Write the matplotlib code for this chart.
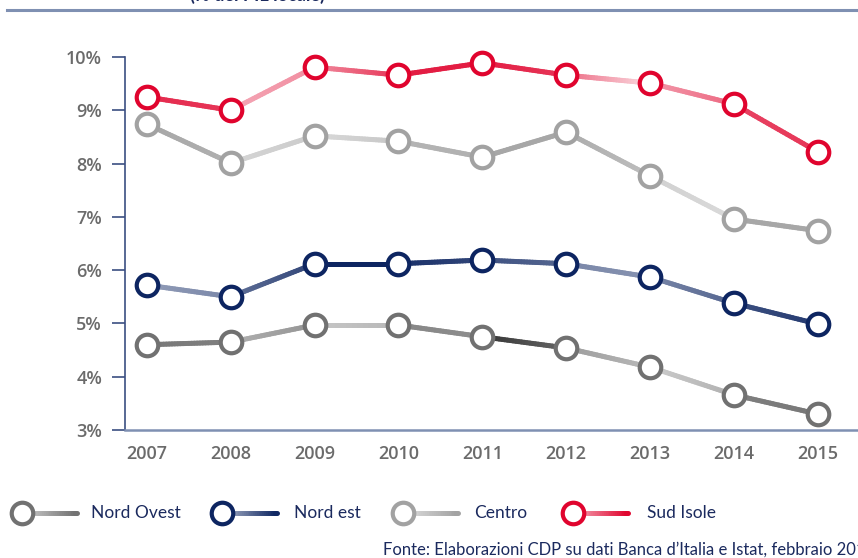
import numpy as np
import matplotlib
matplotlib.use("Agg")
import matplotlib.pyplot as plt
from matplotlib.collections import LineCollection
from matplotlib.lines import Line2D
from matplotlib.colors import to_rgb

plt.rcParams['font.family'] = ['Lato', 'DejaVu Sans']

# dati (% del PIL locale)
anni = [2007, 2008, 2009, 2010, 2011, 2012, 2013, 2014, 2015]
nord_ovest = [4.60, 4.65, 4.97, 4.97, 4.75, 4.54, 4.18, 3.66, 3.30]
nord_est = [5.72, 5.50, 6.12, 6.12, 6.19, 6.12, 5.87, 5.38, 4.99]
centro = [8.74, 8.01, 8.52, 8.42, 8.12, 8.59, 7.77, 6.96, 6.74]
sud_isole = [9.25, 9.00, 9.81, 9.66, 9.89, 9.66, 9.51, 9.12, 8.22]
nomi = ["Nord Ovest", "Nord est", "Centro", "Sud Isole"]
colori = ["#717171", "#0d2561", "#a2a2a2", "#e0042e"]

# sfumature dei segmenti (inizio, fine): >0 verso il bianco, <0 verso il nero
sfum = {
    "Nord Ovest": [(0.05, 0.1), (0.45, 0.25), (0.6, 0.5), (0.15, 0.2), (-0.55, -0.1), (0.3, 0.5), (0.65, 0.45), (0.1, 0.05)],
    "Nord est": [(0.55, 0.45), (0.35, 0.15), (0.0, 0.0), (0.05, 0.15), (0.2, 0.3), (0.45, 0.5), (0.45, 0.3), (0.2, 0.1)],
    "Centro": [(0.05, 0.15), (0.55, 0.45), (0.6, 0.4), (0.2, 0.15), (0.05, 0.05), (0.1, 0.3), (0.5, 0.6), (0.05, 0.05)],
    "Sud Isole": [(0.15, 0.2), (0.65, 0.55), (0.55, 0.2), (0.1, 0.1), (0.1, 0.2), (0.4, 0.85), (0.6, 0.4), (0.25, 0.2)],
}


def mescola(col, f):
    c = np.array(to_rgb(col))
    if f >= 0:
        return tuple(c + (1 - c) * f)
    return tuple(c * (1 + f))


def linea_sfumata(x, y, col, fades, lw, **kw):
    segs, cols = [], []
    for i in range(len(x) - 1):
        n = 30
        t = np.linspace(0, 1, n + 1)
        xs = x[i] + (x[i + 1] - x[i]) * t
        ys = y[i] + (y[i + 1] - y[i]) * t
        for k in range(n):
            segs.append([(xs[k], ys[k]), (xs[k + 1], ys[k + 1])])
            f = fades[i][0] + (fades[i][1] - fades[i][0]) * (k + 0.5) / n
            cols.append(mescola(col, f))
    return LineCollection(segs, colors=cols, linewidths=lw, capstyle='round', **kw)


fig = plt.figure(figsize=(8.58, 5.58), dpi=100)
ax = fig.add_axes([125 / 858, 1 - 430 / 558, 1 - 125 / 858, 373 / 558])

serie = [nord_ovest, nord_est, centro, sud_isole]
for nome, valori, col in zip(nomi, serie, colori):
    ax.add_collection(linea_sfumata(anni, valori, col, sfum[nome], 3.6, zorder=2))
    ax.plot(anni, valori, 'o', ms=15.5, mfc='white', mec=col, mew=3.0, zorder=4, clip_on=False)

ax.set_xlim(2006.74, 2015.48)
ax.set_ylim(3, 10)
ax.set_xticks(anni)
ax.set_xticklabels([str(a) for a in anni])
ax.set_yticks(range(3, 11))
ax.set_yticklabels([f"{v}%" for v in range(3, 11)])

for s in ['top', 'right']:
    ax.spines[s].set_visible(False)
ax.spines['left'].set_color('#3b4f82')
ax.spines['left'].set_linewidth(1.2)
ax.spines['bottom'].set_color('#7f90b2')
ax.spines['bottom'].set_linewidth(1.8)
ax.tick_params(axis='y', length=9.5, width=1.2, color='#3b4f82', pad=7,
               labelcolor='#6b6b6b')
ax.tick_params(axis='x', length=0, pad=11, labelcolor='#6b6b6b')
for lab in ax.get_xticklabels() + ax.get_yticklabels():
    lab.set_family(['Open Sans', 'DejaVu Sans'])
    lab.set_fontweight('semibold')
    lab.set_fontsize(13)

# riga del titolo in alto
fig.add_artist(Line2D([7 / 858, 1], [1 - 10 / 558] * 2, color='#7f90b2', lw=2.2))
fig.text(190 / 858, 1 + 5 / 558, "(% del PIL locale)", color='#1b2a5e', fontsize=13,
         fontweight='bold', va='center', ha='left')

# legenda
leg_x = [22, 222, 403, 573]
txt_x = [91, 294, 474, 647]
ly = 1 - 513 / 558
for nome, col, mx, tx in zip(nomi, colori, leg_x, txt_x):
    xl = list(np.array([mx, mx + 55]) / 858)
    fig.add_artist(linea_sfumata(xl, [ly, ly], col, [(0.7, 0.0)], 3.6,
                                 transform=fig.transFigure, zorder=2))
    fig.add_artist(Line2D([mx / 858], [ly], marker='o', ms=15.5, mfc='white', mec=col,
                          mew=3.0, zorder=4))
    fig.text(tx / 858, ly, nome, color='#1b2a5e', fontsize=12.5, va='center', ha='left')

fig.text(383 / 858, 1 - 550 / 558, "Fonte: Elaborazioni CDP su dati Banca d\u2019Italia e Istat, febbraio 2016",
         color='#1b2a5e', fontsize=12, va='center', ha='left')

fig.savefig("out.png", dpi=100)
